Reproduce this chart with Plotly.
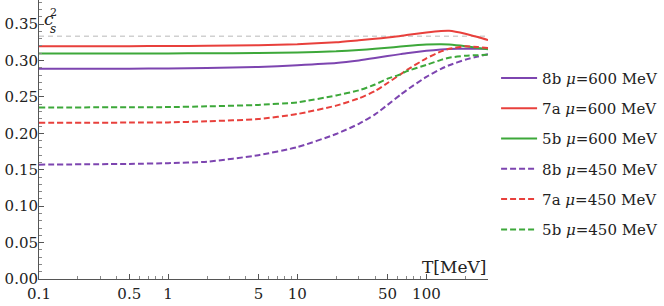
import plotly.graph_objects as go

T = [0.1, 0.5, 1, 2, 5, 10, 20, 30, 40, 50, 63, 70, 100, 130, 150, 200, 250, 300]

c2_8b_600 = [0.2885, 0.2887, 0.2890, 0.2895, 0.2910, 0.2935, 0.2965, 0.3000, 0.3033, 0.3060, 0.3087, 0.3100, 0.3132, 0.3150, 0.3157, 0.3162, 0.3161, 0.3160]
c2_7a_600 = [0.3195, 0.3196, 0.3198, 0.3202, 0.3210, 0.3222, 0.3250, 0.3278, 0.3298, 0.3315, 0.3335, 0.3348, 0.3385, 0.3405, 0.3408, 0.3368, 0.3322, 0.3280]
c2_5b_600 = [0.3095, 0.3096, 0.3097, 0.3098, 0.3102, 0.3110, 0.3125, 0.3143, 0.3160, 0.3175, 0.3190, 0.3198, 0.3218, 0.3223, 0.3218, 0.3195, 0.3172, 0.3155]
c2_8b_450 = [0.1570, 0.1580, 0.1590, 0.1610, 0.1700, 0.1810, 0.1990, 0.2130, 0.2260, 0.2390, 0.2530, 0.2590, 0.2775, 0.2885, 0.2935, 0.3010, 0.3055, 0.3085]
c2_7a_450 = [0.2145, 0.2147, 0.2150, 0.2165, 0.2195, 0.2265, 0.2380, 0.2480, 0.2580, 0.2690, 0.2810, 0.2865, 0.3030, 0.3125, 0.3160, 0.3195, 0.3185, 0.3170]
c2_5b_450 = [0.2355, 0.2357, 0.2360, 0.2370, 0.2390, 0.2425, 0.2520, 0.2590, 0.2670, 0.2750, 0.2810, 0.2850, 0.2940, 0.3008, 0.3038, 0.3065, 0.3073, 0.3077]

labels = ["8b <i>\u03bc</i>=600 MeV", "7a <i>\u03bc</i>=600 MeV", "5b <i>\u03bc</i>=600 MeV",
          "8b <i>\u03bc</i>=450 MeV", "7a <i>\u03bc</i>=450 MeV", "5b <i>\u03bc</i>=450 MeV"]

x_ticks = [0.1, 0.5, 1, 5, 10, 50, 100]
x_ticktext = ["0.1", "0.5", "1", "5", "10", "50", "100"]
y_ticks = [0.0, 0.05, 0.10, 0.15, 0.20, 0.25, 0.30, 0.35]
y_ticktext = ["0.00", "0.05", "0.10", "0.15", "0.20", "0.25", "0.30", "0.35"]
conformal = 1 / 3

PURPLE = "#7d45b0"
RED = "#e8403c"
GREEN = "#3da83a"
FONT = "DejaVu Serif"
TXT = "#222222"
DASH = "6px,3px"

series = [
    (c2_8b_600, PURPLE, "solid"),
    (c2_7a_600, RED, "solid"),
    (c2_5b_600, GREEN, "solid"),
    (c2_8b_450, PURPLE, DASH),
    (c2_7a_450, RED, DASH),
    (c2_5b_450, GREEN, DASH),
]

fig = go.Figure()
fig.add_trace(go.Scatter(x=[T[0], T[-1]], y=[conformal, conformal], mode="lines",
                         line=dict(color="#d0d0d0", width=1.5, dash="5px,4px"),
                         showlegend=False, hoverinfo="skip"))
for i, (vals, col, dash) in enumerate(series):
    fig.add_trace(go.Scatter(x=T, y=vals, mode="lines", name=labels[i],
                             legendgroup=str(i),
                             line=dict(color=col, width=2, dash=dash, shape="spline", smoothing=0.5)))

fig.update_layout(
    width=664, height=306,
    margin=dict(l=39, r=176, t=0, b=27, autoexpand=False),
    plot_bgcolor="white", paper_bgcolor="white",
    font=dict(family=FONT, size=14, color=TXT),
    showlegend=True,
    legend=dict(x=1.018, y=0.779, xanchor="left", yanchor="top",
                font=dict(family=FONT, size=15, color=TXT),
                itemwidth=36,
                tracegroupgap=7.8, bgcolor="rgba(0,0,0,0)"),
    xaxis=dict(type="log", range=[-1, 2.477], automargin=False,
               tickvals=x_ticks, ticktext=x_ticktext,
               ticks="inside", ticklen=5, tickcolor="#555555",
               showline=True, linecolor="#555555", linewidth=1,
               showgrid=False, zeroline=False, ticklabelstandoff=1,
               minor=dict(ticks="inside", ticklen=3, tickcolor="#888888", dtick="D1", showgrid=False),
               tickfont=dict(family=FONT, size=15, color=TXT)),
    yaxis=dict(range=[0, 0.383], automargin=False,
               tickvals=y_ticks, ticktext=y_ticktext,
               ticks="inside", ticklen=5, tickcolor="#555555",
               showline=True, linecolor="#555555", linewidth=1,
               showgrid=False, zeroline=False, ticklabelstandoff=-3,
               minor=dict(ticks="inside", ticklen=3, tickcolor="#888888", dtick=0.01, showgrid=False),
               tickfont=dict(family=FONT, size=15, color=TXT)),
    annotations=[
        dict(xref="paper", yref="paper", x=0.006, y=0.975, xanchor="left", yanchor="top",
             text="<i>c</i>", showarrow=False, font=dict(family=FONT, size=17, color=TXT)),
        dict(xref="paper", yref="paper", x=0.021, y=0.984, xanchor="left", yanchor="top",
             text="2", showarrow=False, font=dict(family=FONT, size=11, color=TXT)),
        dict(xref="paper", yref="paper", x=0.021, y=0.929, xanchor="left", yanchor="top",
             text="<i>s</i>", showarrow=False, font=dict(family=FONT, size=12, color=TXT)),
        dict(xref="paper", yref="paper", x=1.0, y=0.0, xanchor="right", yanchor="bottom",
             text="T[MeV]", showarrow=False, font=dict(family=FONT, size=17, color=TXT)),
    ],
)

fig.write_html("out.html", config={"displayModeBar": False},
               post_script="document.body.style.margin='0';")
